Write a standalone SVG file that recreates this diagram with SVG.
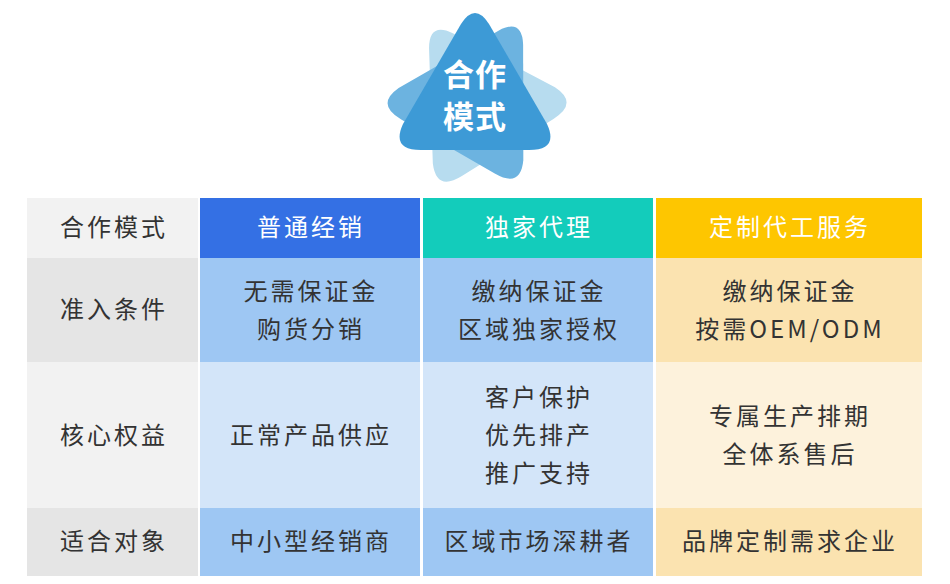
<svg xmlns="http://www.w3.org/2000/svg" width="950" height="584" viewBox="0 0 950 584">
<style>
text{font-family:"Noto Sans CJK SC","Noto Sans",sans-serif;font-size:24px;fill:#333;text-anchor:middle;letter-spacing:3px}
.h{fill:#fff}
.l{font-size:31px;font-weight:bold;fill:#fff;letter-spacing:1px}
</style>
<defs>
<path id="tri" d="M-14,-70 Q0,-92 14,-70 L72,30 Q84,56 54,56 L-54,56 Q-84,56 -72,30 Z"/>
</defs>
<rect width="950" height="584" fill="#fff"/>
<g id="logo">
<use href="#tri" transform="translate(478,100) rotate(-32)" fill="#b7dcef"/>
<use href="#tri" transform="translate(476,98) rotate(30)" fill="#6cb3e0"/>
<use href="#tri" transform="translate(475,94)" fill="#3d9ad6"/>
<text class="l" x="475" y="86">合作</text>
<text class="l" x="475" y="128">模式</text>
</g>
<g id="table">
<rect x="27" y="198" width="171" height="60" fill="#f2f2f2"/>
<rect x="200" y="198" width="220" height="60" fill="#3470e4"/>
<rect x="423" y="198" width="230" height="60" fill="#13ccbb"/>
<rect x="656" y="198" width="266" height="60" fill="#fec600"/>
<rect x="27" y="258" width="171" height="104" fill="#e5e5e5"/>
<rect x="200" y="258" width="220" height="104" fill="#9ec7f3"/>
<rect x="423" y="258" width="230" height="104" fill="#9ec7f3"/>
<rect x="656" y="258" width="266" height="104" fill="#fbe3b0"/>
<rect x="27" y="362" width="171" height="146" fill="#f2f2f2"/>
<rect x="200" y="362" width="220" height="146" fill="#d3e5f9"/>
<rect x="423" y="362" width="230" height="146" fill="#d3e5f9"/>
<rect x="656" y="362" width="266" height="146" fill="#fdf2dc"/>
<rect x="27" y="508" width="171" height="68" fill="#e5e5e5"/>
<rect x="200" y="508" width="220" height="68" fill="#9ec7f3"/>
<rect x="423" y="508" width="230" height="68" fill="#9ec7f3"/>
<rect x="656" y="508" width="266" height="68" fill="#fbe3b0"/>
<text x="114" y="236">合作模式</text>
<text class="h" x="311" y="236">普通经销</text>
<text class="h" x="539" y="236">独家代理</text>
<text class="h" x="790" y="236">定制代工服务</text>
<text x="114" y="318">准入条件</text>
<text x="311" y="300">无需保证金</text>
<text x="311" y="338">购货分销</text>
<text x="539" y="300">缴纳保证金</text>
<text x="539" y="338">区域独家授权</text>
<text x="790" y="300">缴纳保证金</text>
<text x="790" y="338">按需OEM/ODM</text>
<text x="114" y="444">核心权益</text>
<text x="311" y="444">正常产品供应</text>
<text x="539" y="406">客户保护</text>
<text x="539" y="444">优先排产</text>
<text x="539" y="482">推广支持</text>
<text x="790" y="425">专属生产排期</text>
<text x="790" y="463">全体系售后</text>
<text x="114" y="550">适合对象</text>
<text x="311" y="550">中小型经销商</text>
<text x="539" y="550">区域市场深耕者</text>
<text x="790" y="550">品牌定制需求企业</text>
</g>
</svg>
